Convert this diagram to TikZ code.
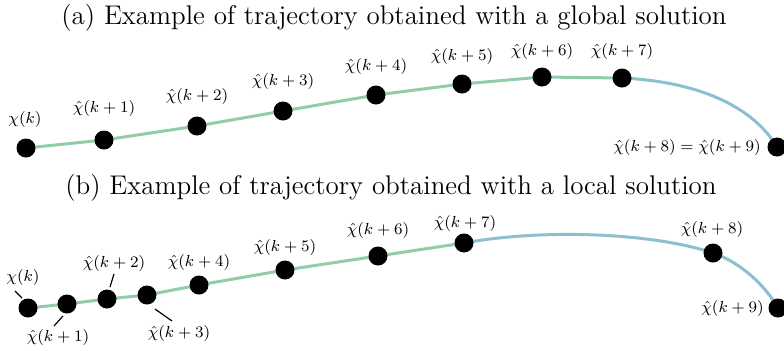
\documentclass[tikz,border=0pt]{standalone}
\usepackage{amsmath,amssymb}
\usepackage{xcolor}
\usepackage{tikz}
\usetikzlibrary{positioning,calc,backgrounds}
\definecolor{trajgreen}{RGB}{145,205,168}
\definecolor{trajblue}{RGB}{140,192,206}

\begin{document}
\begin{tikzpicture}[
  x=0.5pt, y=-0.5pt,
  every node/.style={font=\footnotesize},
  dot/.style={circle, fill=black, inner sep=0pt, minimum size=9.5pt},
  lbl/.style={font=\fontsize{7.7}{9}\selectfont, inner sep=1pt},
  heading/.style={font=\fontsize{13.5}{16}\selectfont, inner sep=0pt},
  greenline/.style={trajgreen, line width=1.5pt},
  blueline/.style={trajblue, line width=1.5pt},
  leader/.style={black, line width=0.6pt},
]
\useasboundingbox (0,0) rectangle (784,350);

%% ── Titles ────────────────────────────────────────────────────────────────
\node[heading] (ta) at (394,18)  {(a) Example of trajectory obtained with a global solution};
\node[heading] (tb) at (391,188) {(b) Example of trajectory obtained with a local solution};

%% ── (a) global solution ───────────────────────────────────────────────────
\node[dot] (a0) at (26,148)  {};
\node[dot] (a1) at (104,140) {};
\node[dot] (a2) at (197,126) {};
\node[dot] (a3) at (283,111) {};
\node[dot] (a4) at (376,95)  {};
\node[dot] (a5) at (462,84)  {};
\node[dot] (a6) at (542,77)  {};
\node[dot] (a7) at (622,78)  {};
\node[dot] (a8) at (777,147) {};

\begin{scope}[on background layer]
  \draw[greenline] (a0.center) -- (a1.center) -- (a2.center) -- (a3.center)
    -- (a4.center) -- (a5.center) -- (a6.center) -- (a7.center);
  \draw[blueline] (a7.center) .. controls (705,82) and (755,110) .. (a8.center);
\end{scope}

\node[lbl] (la0) at (25,119)  {$\chi(k)$};
\node[lbl] (la1) at (104,108) {$\hat{\chi}(k+1)$};
\node[lbl] (la2) at (197,96)  {$\hat{\chi}(k+2)$};
\node[lbl] (la3) at (283,81)  {$\hat{\chi}(k+3)$};
\node[lbl] (la4) at (376,66)  {$\hat{\chi}(k+4)$};
\node[lbl] (la5) at (462,56)  {$\hat{\chi}(k+5)$};
\node[lbl] (la6) at (542,51)  {$\hat{\chi}(k+6)$};
\node[lbl] (la7) at (622,51)  {$\hat{\chi}(k+7)$};
\node[lbl, left=2pt of a8] (la8) {$\hat{\chi}(k+8) = \hat{\chi}(k+9)$};

%% ── (b) local solution ────────────────────────────────────────────────────
\node[dot] (b0) at (28,308)  {};
\node[dot] (b1) at (67,304)  {};
\node[dot] (b2) at (107,299) {};
\node[dot] (b3) at (147,295) {};
\node[dot] (b4) at (199,285) {};
\node[dot] (b5) at (285,270) {};
\node[dot] (b6) at (378,256) {};
\node[dot] (b7) at (464,243) {};
\node[dot] (b8) at (713,253) {};
\node[dot] (b9) at (778,308) {};

\begin{scope}[on background layer]
  \draw[greenline] (b0.center) -- (b1.center) -- (b2.center) -- (b3.center)
    -- (b4.center) -- (b5.center) -- (b6.center) -- (b7.center);
  \draw[blueline] (b7.center) .. controls (540,229) and (650,232) .. (b8.center)
    .. controls (740,262) and (765,285) .. (b9.center);
\end{scope}

\node[lbl] (lb0) at (23,277)  {$\chi(k)$};
\node[lbl] (lb1) at (58,337)  {$\hat{\chi}(k+1)$};
\node[lbl] (lb2) at (114,263) {$\hat{\chi}(k+2)$};
\node[lbl] (lb3) at (179,333) {$\hat{\chi}(k+3)$};
\node[lbl] (lb4) at (199,262) {$\hat{\chi}(k+4)$};
\node[lbl] (lb5) at (285,247) {$\hat{\chi}(k+5)$};
\node[lbl] (lb6) at (378,230) {$\hat{\chi}(k+6)$};
\node[lbl] (lb7) at (465,223) {$\hat{\chi}(k+7)$};
\node[lbl] (lb8) at (712,229) {$\hat{\chi}(k+8)$};
\node[lbl, left=1pt of b9] (lb9) {$\hat{\chi}(k+9)$};

% leaders for the crowded start
\draw[leader] ([shift={(-13,-17)}]b0.center) -- ([shift={(-6,-10)}]b0.center);
\draw[leader] ([shift={(-4,12)}]b1.center)   -- ([shift={(-13,22)}]b1.center);
\draw[leader] ([shift={(7,-25)}]b2.center)   -- ([shift={(3,-12)}]b2.center);
\draw[leader] ([shift={(8,14)}]b3.center)    -- ([shift={(25,26)}]b3.center);

\end{tikzpicture}
\end{document}
